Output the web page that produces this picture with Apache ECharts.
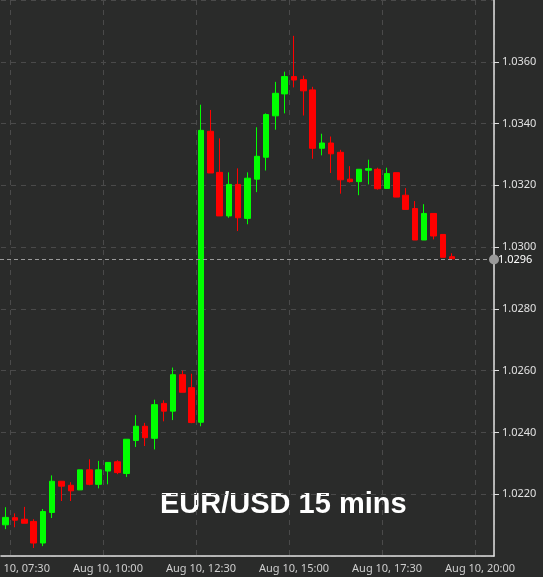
<!DOCTYPE html>
<html><head><meta charset="utf-8">
<script src="https://cdn.jsdelivr.net/npm/echarts@6/dist/echarts.min.js"></script>
<style>html,body{margin:0;padding:0;background:#2a2b2a}#c{width:543px;height:577px}</style>
</head><body><div id="c"></div>
<script>
// times from 07:15 to 20:15 (15-min bars)
const categories = [];
for (let m = 7*60+15; m <= 20*60+15; m += 15) {
  const h = String(Math.floor(m/60)).padStart(2,'0'), mm = String(m%60).padStart(2,'0');
  categories.push('Aug 10, ' + h + ':' + mm);
}
const opens  = [1.02101,1.02124,1.02119,1.02112,1.02042,1.02141,1.02242,1.02229,1.02214,1.02279,1.02232,1.02275,1.02305,1.02267,1.02374,1.02420,1.02381,1.02494,1.02469,1.02587,1.02545,1.02433,1.03375,1.03242,1.03101,1.03203,1.03093,1.03220,1.03291,1.03425,1.03496,1.03552,1.03542,1.03509,1.03320,1.03337,1.03307,1.03220,1.03212,1.03249,1.03252,1.03190,1.03241,1.03168,1.03125,1.03023,1.03109,1.03041,1.02969];
const closes = [1.02125,1.02116,1.02106,1.02042,1.02144,1.02242,1.02226,1.02211,1.02279,1.02232,1.02279,1.02303,1.02270,1.02378,1.02420,1.02383,1.02490,1.02469,1.02587,1.02530,1.02432,1.03378,1.03240,1.03101,1.03203,1.03095,1.03223,1.03294,1.03429,1.03498,1.03552,1.03541,1.03506,1.03320,1.03337,1.03302,1.03218,1.03212,1.03252,1.03254,1.03189,1.03238,1.03162,1.03122,1.03023,1.03109,1.03036,1.02967,1.02962];
const highs  = [1.02158,1.02138,1.02159,1.02119,1.02152,1.02261,1.02242,1.02239,1.02279,1.02313,1.02308,1.02303,1.02310,1.02378,1.02456,1.02431,1.02506,1.02504,1.02610,1.02600,1.02590,1.03461,1.03444,1.03352,1.03242,1.03255,1.03242,1.03388,1.03433,1.03535,1.03568,1.03684,1.03555,1.03519,1.03367,1.03358,1.03315,1.03262,1.03252,1.03283,1.03257,1.03257,1.03241,1.03191,1.03149,1.03139,1.03109,1.03041,1.02980];
const lows   = [1.02087,1.02093,1.02106,1.02026,1.02032,1.02123,1.02178,1.02178,1.02214,1.02229,1.02219,1.02232,1.02265,1.02256,1.02353,1.02356,1.02345,1.02436,1.02440,1.02530,1.02430,1.02420,1.03240,1.03101,1.03095,1.03052,1.03074,1.03178,1.03248,1.03380,1.03433,1.03517,1.03426,1.03286,1.03297,1.03240,1.03173,1.03209,1.03168,1.03203,1.03186,1.03190,1.03162,1.03122,1.03023,1.03023,1.03025,1.02967,1.02962];
const lastPrice = 1.0296;
const title = 'EUR/USD 15 mins';

const data = opens.map((o,i)=>[o, closes[i], lows[i], highs[i]]);
const showIdx = (i)=> i % 10 === 1;
const chart = echarts.init(document.getElementById('c'));
chart.setOption({
  backgroundColor:'#2a2b2a',
  animation:false,
  grid:{left:1,right:49,top:0,bottom:21,outerBoundsMode:'none',containLabel:false},
  xAxis:{type:'category',data:categories,boundaryGap:true,
    axisLine:{lineStyle:{color:'#e0e0e0',width:1.5}},
    axisTick:{alignWithLabel:true,interval:showIdx,length:5,lineStyle:{color:'#e0e0e0'}},
    axisLabel:{interval:showIdx,color:'#cfcfcf',fontSize:11,fontFamily:'Noto Sans',margin:7},
    splitLine:{show:true,interval:showIdx,lineStyle:{color:'#4a4a4a',type:[5,5]}}},
  yAxis:{type:'value',position:'right',min:1.0200,max:1.0380,interval:0.002,
    axisLine:{show:true,lineStyle:{color:'#e0e0e0',width:1.5}},
    axisTick:{show:true,length:5,lineStyle:{color:'#e0e0e0'}},
    axisLabel:{color:'#e0e0e0',fontSize:11,fontFamily:'Noto Sans',showMinLabel:false,showMaxLabel:false,
      formatter:v=>v.toFixed(4)},
    splitLine:{lineStyle:{color:'#4a4a4a',type:[5,5]}}},
  series:[{type:'candlestick',data:data,barWidth:6,
    itemStyle:{color:'#00ff00',color0:'#ff0000',borderColor:'#00ff00',borderColor0:'#ff0000',borderWidth:1},
    markLine:{silent:true,symbol:['none','circle'],symbolSize:10,
      lineStyle:{color:'#9a9a9a',type:[4,3],width:1},
      label:{position:'end',color:'#ffffff',fontSize:11,fontFamily:'Noto Sans',formatter:()=>lastPrice.toFixed(4),distance:4},
      data:[[{coord:[categories[0], lastPrice], x:0},{coord:[categories[categories.length-1], lastPrice], x:494}]],
      emphasis:{disabled:true}}
  }],
  graphic:[{type:'text',left:160,top:490,
    style:{text:title,fill:'#ffffff',font:'bold 29px "Liberation Sans", Arial, sans-serif',
      shadowColor:'rgba(0,0,0,0.9)',shadowBlur:6,shadowOffsetX:1,shadowOffsetY:1}}]
});
</script></body></html>
